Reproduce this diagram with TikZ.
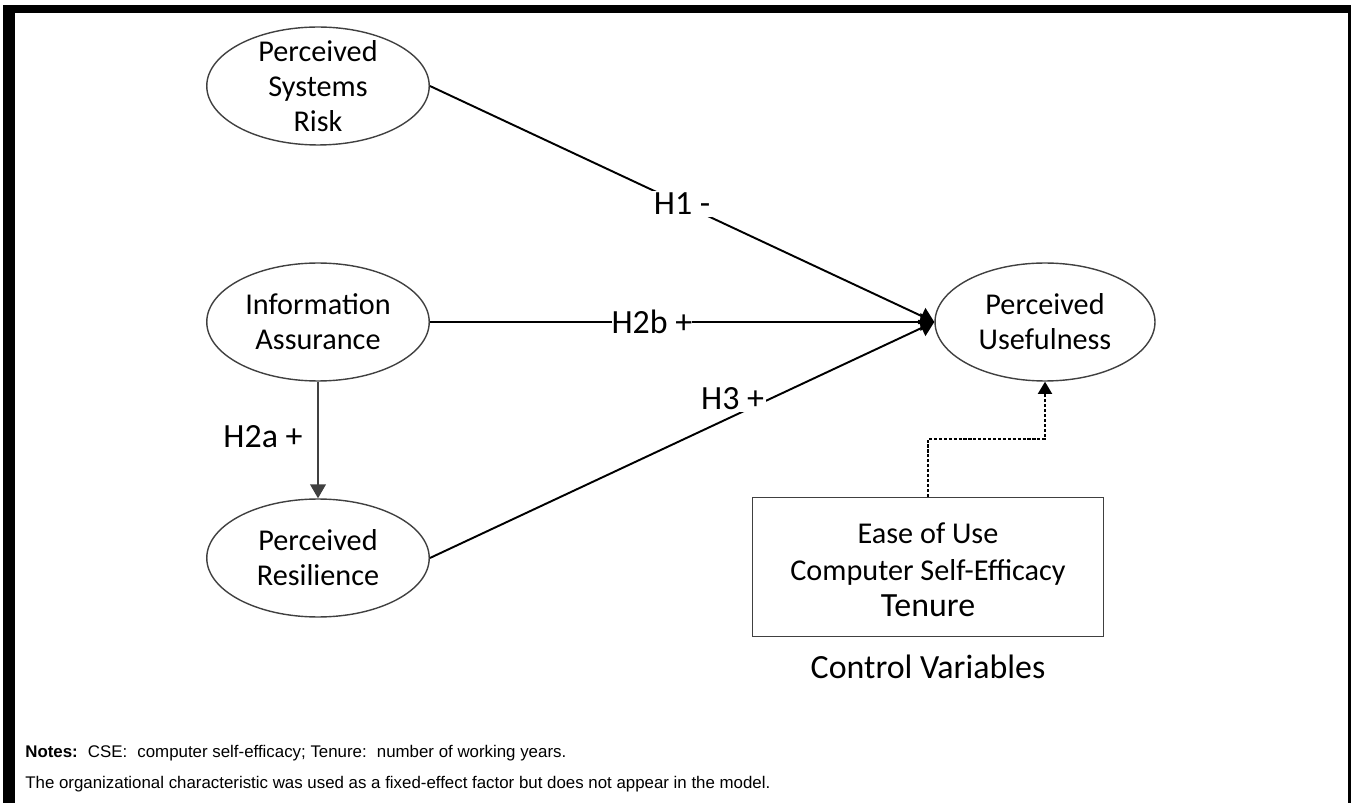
\documentclass[tikz,border=0pt]{standalone}
\usepackage{fontspec}
\setmainfont{Carlito}
\newfontfamily\notesfont{Liberation Sans}
\usepackage{xcolor}
\usepackage{tikz}
\usetikzlibrary{shapes.geometric,arrows.meta}

\definecolor{rimgray}{HTML}{404040}

\begin{document}
\begin{tikzpicture}[x=0.02cm, y=-0.02cm,
            latent/.style={shape=ellipse, draw=rimgray, line width=0.8pt, minimum width=4.45cm, minimum height=2.36cm, inner sep=0pt},
            lbl/.style={align=center, font=\fontsize{17.2}{19.8}\selectfont, inner sep=0pt},
            hyp/.style={line width=1.1pt, -{Triangle[length=8pt, width=10pt]}},
            hlab/.style={font=\fontsize{19.3}{23}\selectfont, fill=white, inner sep=1pt}]
        \useasboundingbox (0,0) rectangle (1351,803);
        % frame
        \fill (3,5) rectangle (15,803);
        \fill (3,5) rectangle (1351,13);
        \fill (1348,5) rectangle (1351,803);

        \node[latent] (psr) at (318,86) {};
        \node[lbl] (psr-t) at (psr) {Perceived\\Systems\\Risk};
        \node[latent] (ia) at (318,322) {};
        \node[lbl] (ia-t) at (ia) {Information\\Assurance};
        \node[latent] (pr) at (318,558) {};
        \node[lbl] (pr-t) at (pr) {Perceived\\Resilience};
        \node[latent, minimum width=4.4cm] (pu) at (1045,322) {};
        \node[lbl] (pu-t) at (pu) {Perceived\\Usefulness};

        \node[draw=rimgray, line width=0.8pt, minimum width=7.02cm, minimum height=2.78cm] (cv) at (928,567) {};
        \node[lbl] (cv-t) at (928,570) {Ease of Use\\[1pt]Computer Self-Efficacy\\[1pt]{\fontsize{19.3}{23}\selectfont Tenure}};
        \node[font=\fontsize{19.3}{23}\selectfont] (cv-cap) at (928,667) {Control Variables};

        \draw[hyp] (psr.east) -- node[hlab, pos=0.5] (h1) {H1 -} (pu.west);
        \draw[hyp] (ia.east) -- node[hlab, pos=0.44, inner sep=0pt] (h2b) {H2b +} (pu.west);
        \draw[hyp] (pr.east) -- node[hlab, pos=0.6, yshift=10pt] (h3) {H3 +} (pu.west);
        \draw[line width=0.9pt, draw=rimgray, -{Triangle[length=8pt, width=9pt]}, rimgray] (ia.south) -- node[pos=0.47, left=5pt, font=\fontsize{19.3}{23}\selectfont, text=black] (h2a) {H2a +} (pr.north);

        \draw[line width=1.2pt, dash pattern=on 1.8pt off 1pt, -{Triangle[length=7pt, width=8pt]}] (cv.north) -- ++(0,-58) -| (pu.south);

        \node[anchor=base west, font=\notesfont\fontsize{9.6}{11}\selectfont, inner sep=0pt] (n1) at (25,757) {\textbf{Notes:}\hspace{0.6em}CSE:\hspace{0.6em}computer self-efficacy; Tenure:\hspace{0.6em}number of working years.};
        \node[anchor=base west, font=\notesfont\fontsize{9.6}{11}\selectfont, inner sep=0pt] (n2) at (25,788) {The organizational characteristic was used as a fixed-effect factor but does not appear in the model.};
\end{tikzpicture}
\end{document}
